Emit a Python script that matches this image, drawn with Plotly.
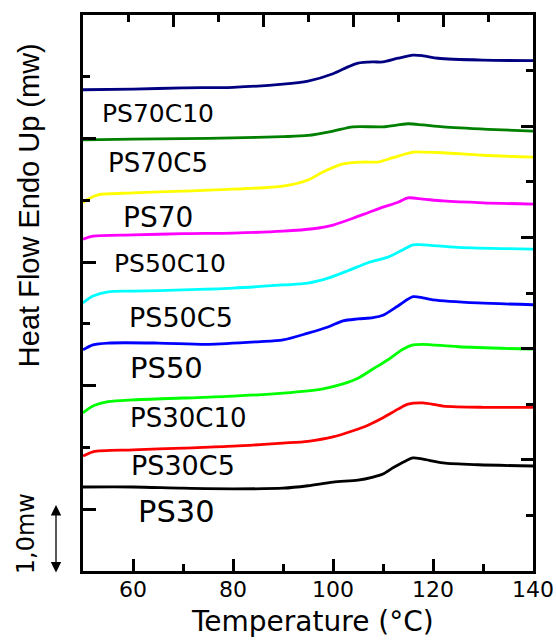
import plotly.graph_objects as go

# ---------------- data ----------------
series_names = ["PS70C10", "PS70C5", "PS70", "PS50C10", "PS50C5",
                "PS50", "PS30C10", "PS30C5", "PS30"]
series_colors = ["#000080", "#008000", "#FFFF00", "#FF00FF", "#00FFFF",
                 "#0000FF", "#00FF00", "#FF0000", "#000000"]

t_ps70c10 = [50, 60, 70, 80, 90, 95, 100, 103, 105, 108, 110, 113, 116, 118, 121, 130, 140]
hf_ps70c10 = [7.79, 7.80, 7.82, 7.83, 7.88, 7.93, 8.05, 8.16, 8.22, 8.24, 8.24, 8.30, 8.35, 8.34, 8.30, 8.27, 8.26]

t_ps70c5 = [50, 60, 70, 80, 90, 95, 100, 104, 110, 115, 118, 122, 131, 140]
hf_ps70c5 = [6.98, 6.99, 7.00, 7.01, 7.03, 7.05, 7.12, 7.19, 7.19, 7.24, 7.22, 7.19, 7.15, 7.12]

t_ps70 = [50, 51, 53, 60, 70, 80, 90, 95, 98, 102, 106, 109, 112, 116, 118, 122, 130, 140]
hf_ps70 = [5.96, 6.02, 6.09, 6.12, 6.15, 6.18, 6.23, 6.33, 6.46, 6.59, 6.62, 6.62, 6.69, 6.78, 6.78, 6.77, 6.73, 6.70]

t_ps50c10 = [50, 52, 60, 70, 80, 90, 96, 100, 104, 107, 110, 113, 115, 118, 122, 130, 140]
hf_ps50c10 = [5.37, 5.42, 5.44, 5.46, 5.47, 5.50, 5.54, 5.60, 5.71, 5.80, 5.89, 5.97, 6.04, 6.02, 5.99, 5.96, 5.94]

t_ps50c5 = [50, 52, 55, 60, 70, 80, 90, 95, 99, 103, 107, 111, 114, 116, 118, 125, 140]
hf_ps50c5 = [4.34, 4.45, 4.52, 4.53, 4.55, 4.58, 4.63, 4.66, 4.74, 4.86, 4.99, 5.08, 5.20, 5.28, 5.28, 5.24, 5.21]

t_ps50 = [50, 52, 55, 65, 75, 85, 90, 95, 99, 102, 105, 108, 110, 113, 116, 118, 120, 129, 140]
hf_ps50 = [3.58, 3.66, 3.69, 3.69, 3.67, 3.71, 3.74, 3.85, 3.95, 4.05, 4.08, 4.10, 4.14, 4.29, 4.44, 4.42, 4.39, 4.34, 4.31]

t_ps30c10 = [50, 52, 55, 60, 70, 80, 90, 98, 102, 105, 108, 111, 114, 116, 118, 125, 140]
hf_ps30c10 = [2.56, 2.67, 2.74, 2.77, 2.80, 2.83, 2.88, 2.95, 3.03, 3.12, 3.27, 3.42, 3.59, 3.66, 3.67, 3.63, 3.59]

t_ps30c5 = [50, 52, 60, 70, 80, 90, 95, 100, 104, 107, 110, 113, 115, 118, 122, 130, 140]
hf_ps30c5 = [1.86, 1.93, 1.96, 1.99, 2.02, 2.07, 2.10, 2.17, 2.27, 2.36, 2.48, 2.62, 2.70, 2.72, 2.67, 2.65, 2.65]

t_ps30 = [50, 60, 70, 80, 90, 95, 100, 105, 108, 110, 112, 114, 116, 118, 122, 129, 140]
hf_ps30 = [1.36, 1.36, 1.34, 1.33, 1.34, 1.38, 1.44, 1.47, 1.52, 1.57, 1.67, 1.76, 1.83, 1.81, 1.75, 1.72, 1.70]

series_t = [t_ps70c10, t_ps70c5, t_ps70, t_ps50c10, t_ps50c5, t_ps50, t_ps30c10, t_ps30c5, t_ps30]
series_hf = [hf_ps70c10, hf_ps70c5, hf_ps70, hf_ps50c10, hf_ps50c5, hf_ps50, hf_ps30c10, hf_ps30c5, hf_ps30]

x_tick_labels = ["60", "80", "100", "120", "140"]
x_tick_values = [60, 80, 100, 120, 140]

# label placement (layout, not data)
label_pos_x = [64.9, 65.0, 64.9, 67.4, 69.6, 66.6, 71.1, 70.0, 68.6]
label_pos_y = [7.41, 6.60, 5.73, 4.97, 4.10, 3.29, 2.48, 1.70, 0.97]
label_sizes = [25, 26, 28, 25, 27, 29, 26, 27, 30.5]

FONT = "DejaVu Sans"

fig = go.Figure()
for name, color, t, hf in zip(series_names, series_colors, series_t, series_hf):
    fig.add_trace(go.Scatter(x=t, y=hf, mode="lines", name=name,
                             line=dict(color=color, width=2.8, shape="spline", smoothing=0.8),
                             showlegend=False, hoverinfo="skip"))

# invisible traces that instantiate the top and right frame axes
fig.add_trace(go.Scatter(x=[5], y=[5], xaxis="x2", yaxis="y", mode="markers",
                         marker=dict(opacity=0, size=1), showlegend=False, hoverinfo="skip"))
fig.add_trace(go.Scatter(x=[100], y=[5], xaxis="x", yaxis="y2", mode="markers",
                         marker=dict(opacity=0, size=1), showlegend=False, hoverinfo="skip"))

for name, lx, ly, ls in zip(series_names, label_pos_x, label_pos_y, label_sizes):
    fig.add_annotation(x=lx, y=ly, xref="x", yref="y", text=name, showarrow=False,
                       font=dict(family=FONT, size=ls, color="black"),
                       xanchor="center", yanchor="middle")

# y title
fig.add_annotation(x=-0.12, y=0.658, xref="paper", yref="paper",
                   text="Heat Flow Endo Up (mw)", textangle=-90, showarrow=False,
                   font=dict(family="Liberation Sans", size=29, color="black"),
                   xanchor="center", yanchor="middle")
# x title
fig.add_annotation(x=0.511, y=-0.09, xref="paper", yref="paper",
                   text="Temperature (°C)", showarrow=False,
                   font=dict(family=FONT, size=28, color="black"),
                   xanchor="center", yanchor="middle")
# scale bar text
fig.add_annotation(x=-0.1267, y=0.068, xref="paper", yref="paper",
                   text="1,0mw", textangle=-90, showarrow=False,
                   font=dict(family=FONT, size=24, color="black"),
                   xanchor="center", yanchor="middle")
# scale bar double arrow
fig.add_annotation(x=-0.06, y=0.1187, xref="paper", yref="paper",
                   text="", showarrow=True, ax=0, ay=69,
                   arrowside="end+start", arrowhead=2, arrowsize=1.6,
                   arrowwidth=1.3, arrowcolor="black")

axis_common = dict(showline=True, linecolor="black", linewidth=3, showgrid=False,
                   zeroline=False, ticks="inside", tickcolor="black", tickwidth=2.5,
                   automargin=False, type="linear")
minor_short = dict(ticks="inside", ticklen=7, tickwidth=2.5, tickcolor="black", showgrid=False)

fig.update_layout(
    width=556, height=644,
    margin=dict(l=83, r=23, t=15, b=73, pad=0, autoexpand=False),
    plot_bgcolor="white", paper_bgcolor="white",
    xaxis=dict(range=[50, 140], tickvals=x_tick_values, ticktext=x_tick_labels,
               ticklen=12, ticklabelstandoff=-3,
               tickfont=dict(family=FONT, size=22, color="black"),
               minor=dict(tickvals=[70, 90, 110, 130], **minor_short),
               **axis_common),
    xaxis2=dict(range=[0, 10], overlaying="x", side="top", anchor="y",
                tick0=0, dtick=2, ticklen=12, showticklabels=False,
                minor=dict(dtick=1, **minor_short),
                **axis_common),
    yaxis=dict(range=[0, 9], tick0=1, dtick=2, ticklen=13, showticklabels=False,
               minor=dict(dtick=1, **minor_short),
               **axis_common),
    yaxis2=dict(range=[0, 10], overlaying="y", side="right", anchor="x",
                dtick=2, tick0=0, ticklen=12, showticklabels=False,
                minor=dict(dtick=1, **minor_short),
                **axis_common),
)

fig.write_html("out.html", config={"displayModeBar": False},
               post_script="document.body.style.margin='0px';document.body.style.overflow='hidden';")
